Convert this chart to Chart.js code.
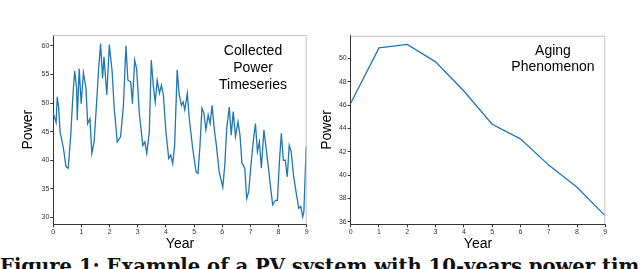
<!DOCTYPE html>
<html>
<head>
<meta charset="utf-8">
<script src="https://cdn.jsdelivr.net/npm/chart.js@4.4.0/dist/chart.umd.min.js"></script>
<style>
    body { margin: 0; width: 640px; height: 269px; overflow: hidden; background: #fff; position: relative; }
    canvas { position: absolute; top: 0; }
    #left { left: 0; }
    #right { left: 310px; }
    .note { position: absolute; font-family: "Liberation Sans", Arial, sans-serif; font-size: 14px; color: #000; text-align: center; white-space: nowrap; }
    .caption { position: absolute; left: 0; top: 257px; font-family: "DejaVu Serif", serif; font-weight: bold; font-size: 19.6px; line-height: 1; white-space: nowrap; color: #111; }
</style>
</head>
<body>
<canvas id="left" width="310" height="253"></canvas>
<canvas id="right" width="330" height="253"></canvas>
<div class="note" style="left:203px; top:42.2px; width:100px; line-height:17px;">Collected<br>Power<br>Timeseries</div>
<div class="note" style="left:493px; top:41.6px; width:120px; line-height:16.7px;">Aging<br>Phenomenon</div>
<div class="caption">Figure 1: Example of a PV system with 10-years power timeseries</div>
<script>
// collected power timeseries (year, power)
const powerYears = [0, 0.1, 0.14, 0.19, 0.24, 0.36, 0.45, 0.53, 0.62, 0.69, 0.76, 0.83, 0.85, 0.92, 0.99,
    1.07, 1.16, 1.22, 1.3, 1.37, 1.45, 1.54, 1.61, 1.68, 1.75, 1.8, 1.9, 1.99,
    2.09, 2.16, 2.27, 2.39, 2.49, 2.58, 2.65, 2.75, 2.81, 2.89, 2.96,
    3.06, 3.18, 3.25, 3.32, 3.41, 3.48, 3.55, 3.62, 3.69, 3.77, 3.84, 3.91,
    4.0, 4.1, 4.17, 4.24, 4.31, 4.4, 4.47, 4.55, 4.61, 4.67, 4.76, 4.83, 4.95,
    5.07, 5.14, 5.21, 5.28, 5.35, 5.42, 5.5, 5.57, 5.64, 5.71, 5.8, 5.89,
    6.02, 6.09, 6.16, 6.25, 6.32, 6.39, 6.47, 6.56, 6.63, 6.7, 6.8, 6.87, 6.94,
    7.03, 7.1, 7.18, 7.25, 7.32, 7.39, 7.48, 7.58, 7.67, 7.79, 7.89, 7.96,
    8.03, 8.1, 8.17, 8.24, 8.31, 8.38, 8.45, 8.53, 8.62, 8.72, 8.79, 8.86, 8.9, 8.98]
const powerValues = [48.2, 46.6, 51.1, 49.3, 45.0, 42.1, 38.9, 38.6, 44.4, 50.8, 55.6, 52.6, 47.0, 56.0, 49.9,
    55.3, 52.6, 46.4, 47.3, 41.2, 43.2, 50.2, 56.0, 60.4, 54.3, 58.1, 51.4, 60.2,
    55.5, 49.3, 43.2, 44.1, 49.6, 60.0, 54.0, 53.7, 49.9, 57.5, 56.0,
    47.9, 42.6, 43.2, 41.2, 45.0, 57.5, 53.1, 50.2, 54.0, 51.7, 53.1, 51.4,
    45.0, 40.3, 40.9, 39.4, 42.6, 55.8, 51.5, 49.6, 50.2, 48.8, 51.7, 47.3, 42.1,
    38.0, 37.7, 42.6, 49.1, 48.2, 45.3, 47.9, 46.4, 49.6, 45.8, 42.3, 38.0,
    35.3, 39.1, 45.6, 49.3, 44.4, 48.5, 44.1, 46.7, 44.4, 39.5, 38.6, 33.3, 34.5,
    39.7, 43.2, 46.4, 41.5, 43.2, 38.6, 45.3, 41.2, 37.4, 32.2, 33.0, 33.0,
    39.7, 44.7, 40.0, 40.0, 37.1, 42.6, 41.5, 37.4, 34.5, 31.6, 31.9, 30.1, 31.0, 42.3]

// aging trend
const agingYears = [0, 1, 2, 3, 4, 5, 6, 7, 8, 9]
const agingValues = [46.15, 50.9, 51.2, 49.7, 47.2, 44.35, 43.1, 40.85, 38.95, 36.5]

Chart.defaults.font.family = "Liberation Sans"

const frame = {
    id: "frame",
    afterDraw(chart) {
        const {ctx, chartArea: a} = chart
        ctx.save()
        ctx.strokeStyle = "#c4c4c4"
        ctx.lineWidth = 1
        ctx.beginPath()
        ctx.moveTo(a.left, a.top + 0.5)
        ctx.lineTo(a.right - 0.5, a.top + 0.5)
        ctx.lineTo(a.right - 0.5, a.bottom)
        ctx.stroke()
        ctx.restore()
    }
}

const makeChart = (id, xs, ys, yMin, yMax, yStep, yWidth, titlePad, pad) => {
    new Chart(id, {
        type: "line",
        data: {
            datasets: [{
                data: xs.map((x, i) => ({x: x, y: ys[i]})),
                borderColor: "#1f77b4",
                borderWidth: 1.3,
                pointRadius: 0,
                tension: 0
            }]
        },
        plugins: [frame],
        options: {
            responsive: false,
            devicePixelRatio: 1,
            animation: false,
            layout: {padding: pad},
            plugins: {legend: {display: false}, tooltip: {enabled: false}},
            scales: {
                x: {
                    type: "linear",
                    min: 0,
                    max: 9,
                    ticks: {stepSize: 1, includeBounds: false, font: {size: 7}, color: "#333", padding: 1, maxRotation: 0},
                    grid: {drawOnChartArea: false, tickLength: 3, color: "#333"},
                    border: {color: "#333", width: 1},
                    title: {display: true, text: "Year", font: {size: 14}, color: "#000", padding: 0},
                    afterFit: s => { s.height = 28.7 }
                },
                y: {
                    min: yMin,
                    max: yMax,
                    ticks: {stepSize: yStep, includeBounds: false, font: {size: 7}, color: "#333", padding: 1},
                    grid: {drawOnChartArea: false, tickLength: 3, color: "#333"},
                    border: {color: "#333", width: 1},
                    title: {display: true, text: "Power", font: {size: 14}, color: "#000", padding: {top: titlePad, bottom: 0}},
                    afterFit: s => { s.width = yWidth }
                }
            }
        }
    })
}

makeChart("left", powerYears, powerValues, 28.8, 61.9, 5, 53.3, 19.6, {top: 35, right: 3.3, left: 0, bottom: 0})
makeChart("right", agingYears, agingValues, 35.78, 51.94, 2, 40.7, 8.3, {top: 35.7, right: 34.7, left: 0, bottom: 0})
</script>
</body>
</html>
